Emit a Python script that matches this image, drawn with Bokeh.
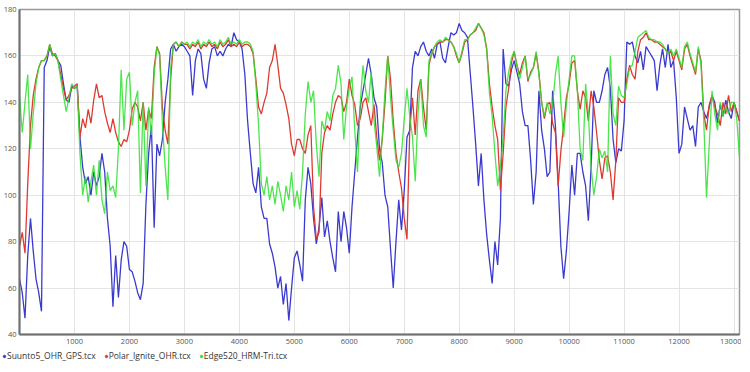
from bokeh.plotting import figure
from bokeh.models import Legend, LegendItem, FixedTicker
from bokeh.layouts import column
from bokeh.embed import file_html
from bokeh.resources import INLINE

# ---- data (heart rate, sampled every 50 s) ----
STEP = 50

suunto = [
    64, 58, 47, 74, 90, 76, 64, 58, 50, 155,
    158, 164, 160, 161, 158, 156, 148, 141, 140, 147,
    146, 147, 125, 112, 105, 108, 100, 110, 104, 108,
    118, 110, 90, 78, 52, 74, 56, 72, 80, 78,
    68, 67, 63, 58, 55, 62, 96, 118, 130, 86,
    122, 117, 124, 140, 150, 163, 165, 162, 164, 165,
    164, 162, 160, 143, 158, 163, 161, 150, 146, 157,
    163, 164, 160, 162, 160, 163, 165, 164, 170, 167,
    166, 163, 152, 132, 118, 105, 101, 112, 95, 90,
    90, 79, 75, 69, 60, 65, 53, 62, 46, 60,
    73, 76, 70, 63, 98, 112, 105, 90, 79, 86,
    99, 82, 89, 80, 73, 67, 93, 80, 93, 86,
    75, 95, 110, 125, 138, 145, 152, 159, 152, 142,
    138, 120, 114, 100, 95, 77, 60, 80, 98, 85,
    102, 125, 128, 155, 162, 160, 164, 166, 162, 160,
    163, 159, 165, 166, 159, 157, 164, 170, 169, 170,
    174, 171, 170, 168, 153, 138, 122, 104, 118, 98,
    83, 72, 62, 80, 70, 90, 163, 148, 147, 154,
    158, 153, 148, 136, 130, 130, 115, 96, 110, 145,
    128, 120, 108, 110, 145, 130, 106, 78, 64, 76,
    93, 113, 100, 118, 118, 110, 104, 89, 112, 145,
    140, 140, 145, 152, 155, 146, 124, 114, 120, 119,
    132, 166, 165, 166, 160, 157, 162, 154, 164, 162,
    160, 158, 145, 156, 163, 155, 165, 155, 158, 142,
    118, 122, 138, 133, 128, 130, 121, 138, 140, 136,
    133, 138, 143, 140, 131, 139, 134, 141, 136, 133,
    140, 136, 132,
]

polar = [
    78, 84, 75, 105, 130, 143, 150, 155, 158, 158,
    160, 165, 161, 160, 158, 152, 146, 141, 143, 146,
    147, 148, 125, 133, 129, 137, 131, 141, 148, 142,
    143, 136, 131, 127, 133, 127, 123, 121, 124, 123,
    128, 137, 140, 138, 132, 140, 128, 137, 133, 155,
    164, 161, 138, 128, 122, 150, 165, 166, 164, 166,
    165, 165, 163, 165, 164, 166, 163, 165, 164, 166,
    164, 165, 163, 166, 164, 165, 167, 164, 165, 164,
    166, 164, 165, 165, 164, 161, 150, 138, 135, 140,
    144, 155, 158, 165, 156, 146, 144, 139, 133, 122,
    117, 124, 124, 120, 118, 126, 130, 95, 81, 84,
    118, 127, 130, 128, 135, 140, 143, 142, 136, 140,
    150, 143, 139, 130, 133, 140, 142, 136, 130, 139,
    125, 115, 124, 140, 160, 150, 132, 118, 110, 103,
    90, 81, 128, 142, 126, 145, 150, 138, 128, 156,
    161, 164, 165, 166, 166, 167, 167, 166, 164, 160,
    157, 161, 166, 167, 169, 170, 171, 174, 172, 170,
    163, 148, 138, 130, 124, 102, 118, 138, 146, 157,
    162, 156, 152, 157, 160, 149, 153, 155, 161, 153,
    140, 133, 139, 140, 131, 127, 104, 119, 130, 142,
    148, 157, 158, 145, 137, 145, 142, 132, 145, 138,
    127, 115, 107, 116, 117, 110, 98, 115, 142, 140,
    140, 150, 156, 152, 150, 162, 167, 168, 170, 167,
    167, 166, 166, 165, 164, 163, 161, 162, 158, 162,
    158, 154, 163, 165, 160, 156, 152, 163, 158, 135,
    128, 139, 143, 138, 135, 130, 140, 135, 143, 136,
    140, 136, 132,
]

edge = [
    143, 127, 140, 152, 120, 135, 148, 155, 158, 158,
    160, 165, 160, 161, 158, 150, 143, 136, 142, 148,
    146, 147, 118, 100, 108, 97, 106, 113, 100, 115,
    98, 92, 110, 102, 104, 99, 120, 154, 128, 150,
    153, 130, 140, 145, 101, 140, 104, 138, 126, 152,
    164, 160, 131, 112, 98, 155, 165, 166, 164, 166,
    165, 166, 164, 166, 165, 167, 164, 166, 165, 167,
    165, 166, 164, 167, 165, 166, 168, 165, 166, 165,
    167, 165, 166, 166, 165, 162, 148, 130, 105, 100,
    108, 98, 104, 96, 106, 100, 93, 104, 98, 110,
    95, 102, 94, 110, 135, 149, 140, 145, 122, 108,
    132, 128, 136, 132, 143, 146, 156, 148, 124, 138,
    146, 151, 128, 110, 140, 156, 145, 140, 153, 132,
    121, 108, 125, 145, 160, 142, 128, 115, 112, 118,
    133, 146, 134, 125, 106, 135, 150, 130, 125, 158,
    161, 164, 166, 167, 166, 168, 167, 166, 164, 161,
    157, 162, 167, 167, 169, 170, 172, 174, 172, 169,
    163, 144, 134, 118, 104, 112, 125, 145, 153, 159,
    162, 156, 150, 155, 160, 150, 152, 155, 162, 152,
    140, 134, 140, 135, 139, 152, 160, 140, 125, 139,
    150, 160, 160, 145, 120, 115, 148, 135, 112, 100,
    108, 120, 116, 119, 110, 160, 135, 130, 147, 143,
    142, 148, 155, 156, 162, 168, 169, 170, 171, 168,
    167, 167, 166, 166, 165, 163, 161, 163, 160, 163,
    159, 155, 164, 166, 161, 157, 153, 164, 156, 132,
    99, 122, 145, 135, 128, 140, 134, 138, 135, 140,
    140, 133, 116,
]

series_names = ["Suunto5_OHR_GPS.tcx", "Polar_Ignite_OHR.tcx", "Edge520_HRM-Tri.tcx"]
series_colors = ["#3a3ad0", "#e03a30", "#2ee02e"]

x_ticks = [1000, 2000, 3000, 4000, 5000, 6000, 7000, 8000, 9000, 10000, 11000, 12000, 13000]
y_ticks = [40, 60, 80, 100, 120, 140, 160, 180]

times = [i * STEP for i in range(len(suunto))]

# ---- main chart ----
p = figure(frame_width=720, frame_height=325, x_range=(0, 13100), y_range=(40, 180),
           output_backend="svg", toolbar_location=None,
           min_border_left=19, min_border_right=2, min_border_top=9, min_border_bottom=0)
p.frame_align = False
p.background_fill_color = "white"
p.border_fill_color = "white"
p.outline_line_color = "#999999"
p.outline_line_width = 1.5

p.xaxis.ticker = FixedTicker(ticks=x_ticks)
p.yaxis.ticker = FixedTicker(ticks=y_ticks)
p.xgrid.grid_line_color = "#e4e4e4"
p.ygrid.grid_line_color = "#e4e4e4"

for ax in (p.xaxis[0], p.yaxis[0]):
    ax.axis_line_color = "#707070"
    ax.axis_line_width = 2
    ax.major_tick_line_color = None
    ax.minor_tick_line_color = None
    ax.major_tick_out = 0
    ax.major_tick_in = 0
    ax.minor_tick_out = 0
    ax.minor_tick_in = 0
    ax.major_label_text_font = "Open Sans"
    ax.major_label_text_font_size = "7.5px"
    ax.major_label_text_color = "#555555"
p.yaxis.major_label_standoff = 3
p.xaxis.major_label_standoff = 4

data = [suunto, polar, edge]
alphas = [1.0, 1.0, 0.85]
for vals, col, a in zip(data, series_colors, alphas):
    p.line(times, vals, line_color=col, line_width=1.3, line_alpha=a)

# ---- legend strip below the chart ----
leg = figure(width=741, height=18, x_range=(0, 1), y_range=(0, 1),
             output_backend="svg", toolbar_location=None,
             x_axis_location=None, y_axis_location=None, min_border=0)
leg.frame_align = False
leg.outline_line_color = None
leg.grid.visible = False
leg.background_fill_alpha = 0

# one off-range point per series, only so that the legend has a dot glyph to draw
dots = []
for col in series_colors:
    dots.append(leg.scatter(x=[-5], y=[-5], marker="circle", size=4, fill_color=col, line_color=col))

legend = Legend(items=[LegendItem(label=n, renderers=[d]) for n, d in zip(series_names, dots)],
                orientation="horizontal", location=(1, 3),
                label_text_font="Open Sans", label_text_font_size="8.5px", label_text_color="#333333",
                glyph_width=6, glyph_height=8, label_standoff=0, spacing=7,
                padding=0, margin=0, border_line_alpha=0, background_fill_alpha=0,
                label_height=10)
leg.add_layout(legend)

layout = column(p, leg, spacing=0)
open("out.html", "w").write(file_html(layout, INLINE))
